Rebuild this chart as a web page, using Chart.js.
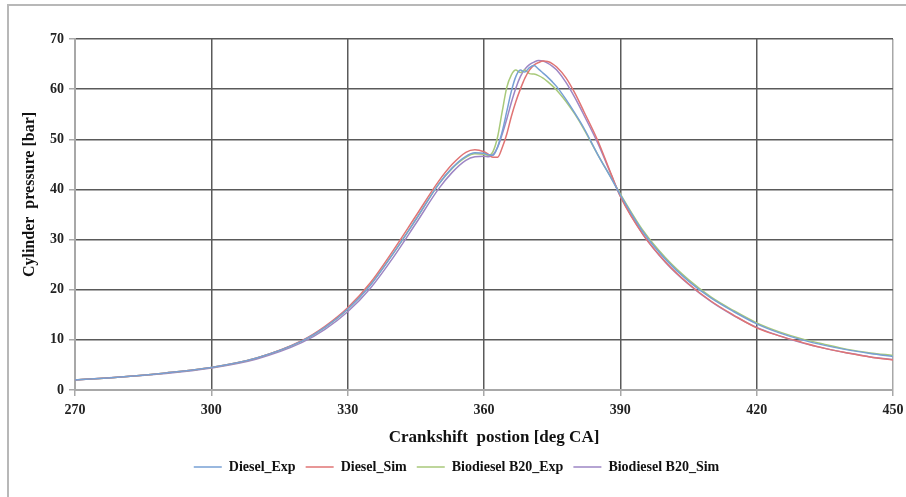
<!DOCTYPE html>
<html>
<head>
<meta charset="utf-8">
<script src="https://cdn.jsdelivr.net/npm/chart.js@4.4.1/dist/chart.umd.min.js"></script>
<style>
  html, body { margin: 0; padding: 0; background: #fff; }
  #wrap { position: relative; width: 906px; height: 497px; overflow: hidden; }
  #frame { position: absolute; left: 7px; top: 4px; width: 1000px; height: 1000px;
           border-left: 2px solid #b8b8b8; border-top: 2px solid #b8b8b8; }
  canvas { position: absolute; left: 0; top: 0; }
</style>
</head>
<body>
<div id="wrap">
  <div id="frame"></div>
  <canvas id="pressureChart" width="906" height="497"></canvas>
</div>
<script>
// crank angle [deg CA]
const angles = [270, 280, 290, 300, 310, 320, 325, 330, 335, 340, 345, 350, 353, 356, 358,
  360, 361, 362, 363, 364, 365, 366, 367, 368, 369, 370, 371, 372, 373, 374, 375, 376,
  378, 380, 382, 385, 388, 390, 395, 400, 405, 410, 415, 420, 425, 430, 435, 440, 445, 450];

// cylinder pressure [bar]
const dieselExp = [2.0, 2.6, 3.4, 4.5, 6.4, 9.8, 12.5, 16.1, 20.9, 27.2, 34.0, 41.0, 44.3, 46.6, 47.3,
  47.2, 46.9, 46.8, 48.5, 51.5, 55.5, 59.5, 62.5, 63.8, 63.4, 64.3, 64.7, 64.0, 63.2, 62.4, 61.5, 60.5,
  58.0, 55.2, 52.2, 47.0, 42.2, 38.9, 31.5, 26.0, 21.7, 18.3, 15.6, 13.2, 11.4, 10.0, 8.9, 8.0, 7.3, 6.7];
const dieselSim = [2.0, 2.6, 3.4, 4.5, 6.4, 9.9, 12.7, 16.4, 21.4, 27.8, 34.7, 41.6, 45.0, 47.4, 47.9,
  47.5, 47.0, 46.4, 46.4, 48.3, 51.0, 54.5, 57.5, 60.0, 62.2, 63.8, 64.8, 65.3, 65.6, 65.5, 65.1, 64.4,
  62.3, 59.2, 55.5, 49.8, 43.0, 38.6, 31.0, 25.5, 21.2, 17.7, 14.9, 12.4, 10.8, 9.5, 8.3, 7.4, 6.6, 6.0];
const b20Exp = [2.0, 2.6, 3.4, 4.5, 6.4, 9.8, 12.5, 16.1, 21.0, 27.2, 34.0, 41.0, 44.2, 46.4, 47.1,
  47.0, 46.8, 47.6, 50.5, 55.5, 60.3, 62.8, 63.8, 63.3, 63.8, 63.1, 63.0, 62.7, 62.2, 61.5, 60.7, 59.8,
  57.6, 55.0, 52.0, 47.0, 42.3, 39.1, 31.8, 26.3, 22.0, 18.5, 15.8, 13.4, 11.6, 10.2, 9.1, 8.1, 7.4, 6.9];
const b20Sim = [2.0, 2.6, 3.3, 4.4, 6.2, 9.5, 12.1, 15.6, 20.3, 26.4, 33.2, 40.1, 43.4, 45.8, 46.5,
  46.6, 46.5, 46.9, 48.4, 51.0, 54.0, 57.3, 60.2, 62.5, 64.0, 64.9, 65.4, 65.7, 65.6, 65.2, 64.6, 63.8,
  61.4, 58.3, 54.8, 49.3, 42.9, 38.7, 31.0, 25.4, 21.1, 17.6, 14.8, 12.5, 10.8, 9.4, 8.3, 7.4, 6.6, 6.1];

const seriesNames = ["Diesel_Exp", "Diesel_Sim", "Biodiesel B20_Exp", "Biodiesel B20_Sim"];
const seriesColors = ["#77a0d4", "#e07474", "#a8c97a", "#9d86c4"];
const seriesValues = [dieselExp, dieselSim, b20Exp, b20Sim];

const xTitle = "Crankshift  postion [deg CA]";
const yTitle = "Cylinder  pressure [bar]";

const serif = "'Liberation Serif', 'Times New Roman', serif";
const gridDark = "#5a5a5a";
const gridLight = "#a8a8a8";

const datasets = seriesValues.map((vals, i) => ({
    label: seriesNames[i],
    data: angles.map((a, j) => ({ x: a, y: vals[j] })),
    borderColor: seriesColors[i],
    backgroundColor: seriesColors[i],
    borderWidth: 1.5,
    pointRadius: 0,
    cubicInterpolationMode: "monotone",
    fill: false
}));

// axis titles sit a little off-centre in the original, so draw them by hand
const axisTitles = {
    id: "axisTitles",
    afterDraw(chart) {
        const { ctx, chartArea } = chart;
        ctx.save();
        ctx.fillStyle = "#111";
        ctx.textAlign = "center";
        ctx.textBaseline = "middle";
        ctx.font = "bold 17px " + serif;
        ctx.fillText(xTitle, (chartArea.left + chartArea.right) / 2 + 10, chartArea.bottom + 48);
        ctx.translate(30, (chartArea.top + chartArea.bottom) / 2 - 20);
        ctx.rotate(-Math.PI / 2);
        ctx.font = "bold 16px " + serif;
        ctx.fillText(yTitle, 0, 0);
        ctx.restore();
    }
};

new Chart(document.getElementById("pressureChart"), {
    type: "line",
    data: { datasets },
    plugins: [axisTitles],
    options: {
        responsive: false,
        animation: false,
        layout: { padding: { left: 16, right: 9, top: 39, bottom: 13 } },
        plugins: {
            tooltip: { enabled: false },
            legend: {
                position: "bottom",
                labels: {
                    usePointStyle: true,
                    pointStyle: "line",
                    pointStyleWidth: 28,
                    color: "#111",
                    font: { family: serif, size: 14, weight: "bold" },
                    padding: 10
                }
            }
        },
        scales: {
            x: {
                type: "linear",
                min: 270,
                max: 450,
                afterFit: s => { s.height = 60; s.paddingRight = 13; },
                ticks: {
                    stepSize: 30,
                    color: "#222",
                    padding: 6,
                    maxRotation: 0,
                    font: { family: serif, size: 14, weight: "bold" }
                },
                grid: {
                    color: c => (c.tick && (c.tick.value === 270 || c.tick.value === 450)) ? gridLight : gridDark,
                    lineWidth: 1.5,
                    tickLength: 6,
                    tickColor: gridLight
                },
                border: { display: true, color: gridLight, width: 2 }
            },
            y: {
                min: 0,
                max: 70,
                afterFit: s => { s.width = 59; },
                ticks: {
                    stepSize: 10,
                    color: "#222",
                    padding: 5,
                    font: { family: serif, size: 14, weight: "bold" }
                },
                grid: {
                    color: c => (c.tick && c.tick.value === 0) ? gridLight : gridDark,
                    lineWidth: 1.5,
                    tickLength: 6,
                    tickColor: gridLight
                },
                border: { display: true, color: gridLight, width: 2 }
            }
        }
    }
});
</script>
</body>
</html>
